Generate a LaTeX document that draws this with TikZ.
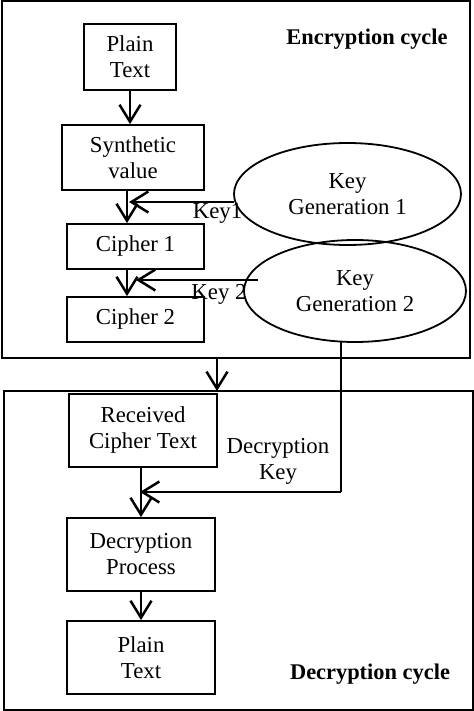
\documentclass[tikz,border=0pt]{standalone}
\usepackage{fontspec}
\setmainfont{Liberation Serif}
\usetikzlibrary{arrows.meta,shapes.geometric,calc}
\begin{document}
\begin{tikzpicture}[x=0.5pt,y=-0.5pt,
  every node/.style={font=\fontsize{11.4}{13}\selectfont},
  stepbox/.style={draw,line width=0.9pt,rectangle,inner sep=0pt,align=center},
  keyell/.style={draw,line width=0.9pt,ellipse,inner sep=0pt,align=center},
  cyclebox/.style={draw,line width=1.3pt},
  flow/.style={line width=1.25pt,-{Straight Barb[length=8.5pt,width=10.5pt,line width=1.25pt]}},
  lbl/.style={inner sep=0pt,align=center},
  title/.style={inner sep=0pt,font=\fontsize{11.2}{13}\selectfont\bfseries}]
\useasboundingbox (0,0) rectangle (474,711);
\fill[white] (0,0) rectangle (474,711);
% cycle frames
\draw[cyclebox] (2,1) rectangle (470,358);
\draw[cyclebox] (4,391) rectangle (473,710);
\node[title] (enc) at (367,39) {Encryption cycle};
\node[title] (dec) at (370,674) {Decryption cycle};
% encryption
\node[stepbox,minimum width=46pt,minimum height=33pt] (pt1) at (130,57) {Plain\\Text};
\node[stepbox,minimum width=71pt,minimum height=32.5pt] (syn) at (133,157.5) {Synthetic\\value};
\node[stepbox,minimum width=68.5pt,minimum height=22.5pt] (c1) at (135.5,246.5) {Cipher 1};
\node[stepbox,minimum width=68.5pt,minimum height=22.5pt] (c2) at (135.5,319.5) {Cipher 2};
\node[keyell,minimum width=113.5pt,minimum height=51pt] (kg1) at (347.5,194) {Key\\Generation 1};
\node[keyell,minimum width=111pt,minimum height=51pt] (kg2) at (355,291) {Key\\Generation 2};
\draw[flow] (pt1.south) -- (pt1.south |- syn.north);
\draw[flow] ([xshift=-3pt]syn.south) -- ([xshift=-4.25pt]c1.north);
\draw[flow] ([xshift=-4.25pt]c1.south) -- ([xshift=-4.25pt]c2.north);
\coordinate (k1s) at (234,202);
\coordinate (k1e) at (129,202);
\draw[flow] (k1s) -- (k1e);
\coordinate (k2s) at (258,280);
\coordinate (k2e) at (136,280);
\draw[flow] (k2s) -- (k2e);
\node[lbl] (k1l) at (217.5,213) {Key1};
\node[lbl] (k2l) at (219,294) {Key 2};
% between cycles
\coordinate (encb) at (217,358);
\coordinate (dect) at (217,391);
\draw[flow,line width=1.4pt] (encb) -- (dect);
% decryption
\node[stepbox,minimum width=74pt,minimum height=36.5pt] (rct) at (143,430.5) {Received\\Cipher Text};
\node[stepbox,minimum width=74pt,minimum height=36.5pt] (dp) at (141,554.5) {Decryption\\Process};
\node[stepbox,minimum width=74pt,minimum height=36.5pt] (pt2) at (141,657.5) {Plain\\Text};
\node[lbl] (dkl) at (278,461) {Decryption\\Key};
\draw[flow] ([xshift=-1pt]rct.south) -- (dp.north);
\draw[flow] (dp.south) -- (pt2.north);
\coordinate (kgb) at (341,342);
\coordinate (dkc) at (341,492);
\coordinate (dke) at (140,492);
\draw[line width=0.85pt] (kgb) -- (dkc);
\draw[flow] (dkc) -- (dke);
\end{tikzpicture}
\end{document}
